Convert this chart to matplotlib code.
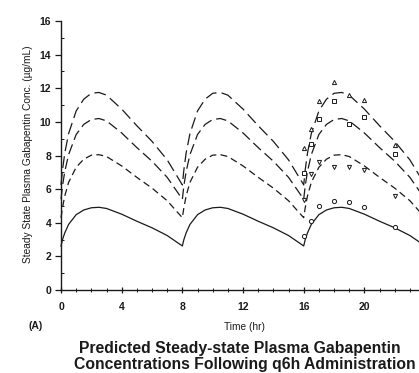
import numpy as np
import matplotlib
matplotlib.use("Agg")
import matplotlib.pyplot as plt
from matplotlib.ticker import MultipleLocator

plt.rcParams['font.family'] = ['Liberation Sans', 'DejaVu Sans']
plt.rcParams['lines.scale_dashes'] = False

# One steady-state dosing interval (hr after dose)
cycle_t = [0, 0.1, 0.25, 0.5, 1, 1.5, 2, 2.5, 3, 4, 5, 6, 7, 8]
conc_low = [2.62, 3.00, 3.40, 3.90, 4.48, 4.76, 4.89, 4.92, 4.85, 4.51, 4.09, 3.70, 3.24, 2.62]
conc_mid1 = [4.30, 4.90, 5.60, 6.40, 7.30, 7.78, 8.02, 8.05, 7.94, 7.38, 6.70, 6.06, 5.31, 4.30]
conc_mid2 = [5.40, 6.20, 7.05, 8.05, 9.25, 9.85, 10.14, 10.20, 10.06, 9.34, 8.47, 7.66, 6.70, 5.40]
conc_high = [6.25, 7.15, 8.15, 9.30, 10.65, 11.35, 11.70, 11.75, 11.59, 10.76, 9.77, 8.84, 7.74, 6.25]
dose_times = [0, 8, 16]

# Observed points (third interval)
obs_t = [16, 16.5, 17, 18, 19, 20, 22]
obs_low = [3.2, 4.1, 4.97, 5.27, 5.22, 4.93, 3.75]
obs_mid1 = [5.37, 6.9, 7.6, 7.34, 7.34, 7.14, 5.6]
obs_mid2 = [6.94, 8.7, 10.15, 11.25, 9.9, 10.3, 8.1]
obs_high = [8.44, 9.6, 11.24, 12.37, 11.6, 11.28, 8.64]

x_ticks = [0, 4, 8, 12, 16, 20]
y_ticks = [0, 2, 4, 6, 8, 10, 12, 14, 16]

fig = plt.figure(figsize=(4.19, 3.73), dpi=100)
ax = fig.add_axes([61/419, 83/373, 1 - 61/419, 269/373])
ax.set_xlim(0, 23.6)
ax.set_ylim(0, 16)

col = '#1a1a1a'

def full(series):
    tt, vv = [], []
    for d in dose_times:
        tt.extend([d + c for c in cycle_t])
        vv.extend(series)
    return tt, vv

styles = [
    (conc_low, '-'),
    (conc_mid1, (0, (5.0, 3.0))),
    (conc_mid2, (0, (7.5, 3.5))),
    (conc_high, (0, (8.5, 3.8))),
]
for s, ls in styles:
    tt, vv = full(s)
    ax.plot(tt, vv, color=col, lw=0.9, linestyle=ls, clip_on=False)

mk = dict(linestyle='none', mfc='white', mec=col, mew=0.7, markersize=3.0, zorder=5)
ax.plot(obs_t, obs_low, marker='o', **mk)
ax.plot(obs_t, obs_mid1, marker='v', **mk)
ax.plot(obs_t, obs_mid2, marker='s', **mk)
ax.plot(obs_t, obs_high, marker='^', **mk)

for sp in ['top', 'right']:
    ax.spines[sp].set_visible(False)
for sp in ['left', 'bottom']:
    ax.spines[sp].set_color(col)
    ax.spines[sp].set_linewidth(1.0)

ax.set_xticks(x_ticks)
ax.set_yticks(y_ticks)
ax.xaxis.set_minor_locator(MultipleLocator(1))
ax.yaxis.set_minor_locator(MultipleLocator(1))
ax.tick_params(axis='x', which='major', direction='inout', length=5, width=0.9, color=col,
               labelsize=7.5, pad=6)
ax.tick_params(axis='x', which='minor', direction='inout', length=3, width=0.7, color=col)
ax.tick_params(axis='y', which='major', direction='out', length=4, width=0.9, color=col,
               labelsize=7.5, pad=3)
ax.tick_params(axis='y', which='minor', direction='in', length=2.5, width=0.7, color=col)
for lab in ax.get_xticklabels() + ax.get_yticklabels():
    lab.set_fontweight('bold')
    lab.set_color(col)

fig.text(28/419, 1 - 154/373, 'Steady State Plasma Gabapentin Conc. (\u00b5g/mL)',
         rotation=90, ha='center', va='center', fontsize=7.3, color=col)
fig.text(244/419, 1 - 327/373, 'Time (hr)', ha='center', va='center', fontsize=7.3, color=col)
fig.text(28/419, 1 - 326/373, '(A)', ha='left', va='center', fontsize=7.5, color=col,
         fontweight='bold')
fig.text(240/419, 1 - 349/373, 'Predicted Steady-state Plasma Gabapentin',
         ha='center', va='center', fontsize=11.3, fontweight='bold', color=col)
fig.text(245/419, 1 - 365/373, 'Concentrations Following q6h Administration',
         ha='center', va='center', fontsize=11.3, fontweight='bold', color=col)

fig.savefig('out.png', dpi=100)
